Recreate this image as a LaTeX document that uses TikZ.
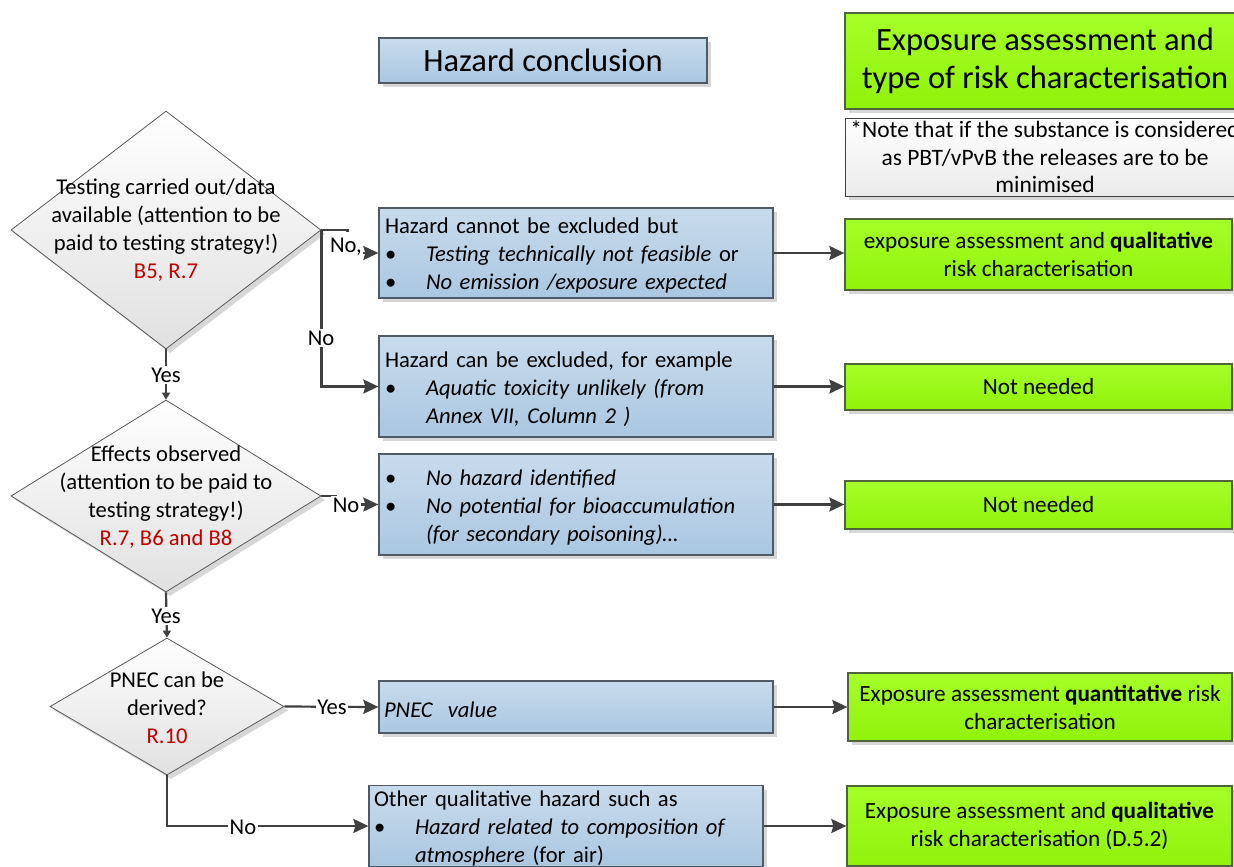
\documentclass[tikz,border=0pt]{standalone}
\usepackage{fontspec}
\setmainfont{Carlito}
\usetikzlibrary{shapes.geometric,arrows.meta,shadows}
\definecolor{lineg}{RGB}{64,64,64}
\definecolor{redref}{RGB}{192,0,0}
\definecolor{bluetop}{RGB}{200,219,236}
\definecolor{bluebot}{RGB}{170,199,225}
\definecolor{blueedge}{RGB}{80,90,100}
\definecolor{greentop}{RGB}{165,255,40}
\definecolor{greenbot}{RGB}{145,242,10}
\definecolor{greenedge}{RGB}{80,100,60}
\definecolor{shade}{RGB}{215,215,215}
\newcommand\blt{\makebox[41pt][l]{\textbullet}}
\tikzset{
  base/.style={font=\fontsize{22.6}{28}\selectfont},
  shad/.style={drop shadow={shadow xshift=4pt,shadow yshift=-4pt,fill=shade,opacity=1}},
  bluefill/.style={base,shad,draw=blueedge,line width=1.3pt,top color=bluetop,bottom color=bluebot,
    rectangle,inner xsep=6pt,inner ysep=0pt,align=left},
  bluebox/.style={bluefill,text height=21pt},
  greenbox/.style={font=\fontsize{23.2}{28}\selectfont,shad,draw=greenedge,line width=1.3pt,top color=greentop,bottom color=greenbot,
    rectangle,inner sep=0pt,align=center},
  notebox/.style={base,shad,draw=lineg,line width=1pt,top color=white,bottom color=black!8,
    rectangle,inner sep=0pt,align=center},
  dia/.style={shad,diamond,draw=black!65,line width=0.8pt,top color=white,bottom color=black!12,inner sep=0pt},
  diatext/.style={base,align=center,inner sep=0pt},
  conn/.style={draw=lineg,line width=2.2pt,-{Stealth[length=15pt,width=14pt,inset=2pt]}},
  connsmall/.style={draw=lineg,line width=2.2pt,-{Triangle[length=7pt,width=8pt]}},
  lbl/.style={base,fill=white,inner sep=1.5pt},
}
\begin{document}
\begin{tikzpicture}[x=1pt,y=-1pt]
\useasboundingbox (0,0) rectangle (1234,867);
\clip (0,0) rectangle (1234,867);
\fill[white] (0,0) rectangle (1234,867);

% header boxes
\node[bluefill,align=center,minimum width=328pt,minimum height=45pt,font=\fontsize{32.5}{38}\selectfont] (hc) at (543,60.5) {Hazard conclusion};
\node[greenbox,minimum width=400pt,minimum height=96pt,font=\fontsize{32.5}{38}\selectfont] (gt) at (1045,61) {Exposure assessment and\\type of risk characterisation};
\node[notebox,minimum width=400pt,minimum height=78pt,font=\fontsize{23.5}{27.5}\selectfont] (note) at (1045,157) {*Note that if the substance is considered\\as PBT/vPvB the releases are to be\\minimised};

% diamonds
\node[dia,minimum width=310pt,minimum height=238pt] (d1) at (166,230) {};
\node[diatext] (d1t) at (166,230.5) {Testing carried out/data\\available (attention to be\\paid to testing strategy!)\\\textcolor{redref}{B5, R.7}};
\node[dia,minimum width=310pt,minimum height=192pt] (d2) at (166,496) {};
\node[diatext] (d2t) at (166,497.5) {Effects observed\\(attention to be paid to\\testing strategy!)\\\textcolor{redref}{R.7, B6 and B8}};
\node[dia,minimum width=234pt,minimum height=137pt] (d3) at (167,706.5) {};
\node[diatext] (d3t) at (167,708) {PNEC can be\\derived?\\\textcolor{redref}{R.10}};

% blue boxes
\node[bluebox,minimum width=394pt,minimum height=90pt,text width=382pt] (b1) at (576,253)
  {Hazard cannot be excluded but\\\blt\textit{Testing technically not feasible} or\\\blt\textit{No emission /exposure expected}};
\node[bluebox,minimum width=394pt,minimum height=101pt,text width=382pt] (b2) at (576,386.5)
  {Hazard can be excluded, for example\\\blt\textit{Aquatic toxicity unlikely (from}\\\hspace*{41pt}\textit{Annex VII, Column 2 )}};
\node[bluebox,minimum width=394pt,minimum height=101pt,text width=382pt] (b3) at (576,504.5)
  {\blt\textit{No hazard identified}\\\blt\textit{No potential for bioaccumulation}\\\hspace*{41pt}\textit{(for secondary poisoning)…}};
\node[bluebox,minimum width=394pt,minimum height=52pt,text width=384pt,inner xsep=5pt] (b4) at (576,707)
  {\textit{PNEC\ \ value}};
\node[bluebox,minimum width=394pt,minimum height=80pt,text width=384pt,inner xsep=5pt] (b5) at (566,826)
  {Other qualitative hazard such as\\\blt\textit{Hazard related to composition of}\\\hspace*{41pt}\textit{atmosphere} (for air)};

% green boxes
\node[greenbox,minimum width=387pt,minimum height=71pt] (g1) at (1038.5,254.5) {exposure assessment and \textbf{qualitative}\\risk characterisation};
\node[greenbox,minimum width=387pt,minimum height=46pt] (g2) at (1038.5,387) {Not needed};
\node[greenbox,minimum width=387pt,minimum height=48pt] (g3) at (1038.5,505) {Not needed};
\node[greenbox,minimum width=384pt,minimum height=68pt] (g4) at (1040,707) {Exposure assessment \textbf{quantitative} risk\\characterisation};
\node[greenbox,minimum width=385pt,minimum height=80pt] (g5) at (1039.5,826) {Exposure assessment and \textbf{qualitative}\\risk characterisation (D.5.2)};

% connectors
\draw[conn] (d1.east) -- ++(26,0) |- (b1.west);
\draw[conn] (d1.east) |- (b2.west);
\draw[connsmall] (d1.south) -- (d2.north);
\draw[conn] (d2.east) -- ++(14,0) |- (b3.west);
\draw[connsmall] (d2.south) -- (d3.north);
\draw[conn] (d3.east) -- (b4.west);
\draw[conn] (d3.south) |- (b5.west);
\draw[conn] (b1.east) -- (g1.west |- b1.east);
\draw[conn] (b2.east) -- (g2.west |- b2.east);
\draw[conn] (b3.east) -- (g3.west |- b3.east);
\draw[conn] (b4.east) -- (g4.west |- b4.east);
\draw[conn] (b5.east) -- (g5.west |- b5.east);

% labels
\node[lbl,minimum height=30pt] (l1) at (346,247) {No,};
\node[lbl] (l2) at (321,338) {No};
\node[lbl] (l3) at (166,375) {Yes};
\node[lbl] (l4) at (346,505) {No};
\node[lbl] (l5) at (166,616) {Yes};
\node[lbl] (l6) at (332,707) {Yes};
\node[lbl] (l7) at (243,827) {No};
\end{tikzpicture}
\end{document}
